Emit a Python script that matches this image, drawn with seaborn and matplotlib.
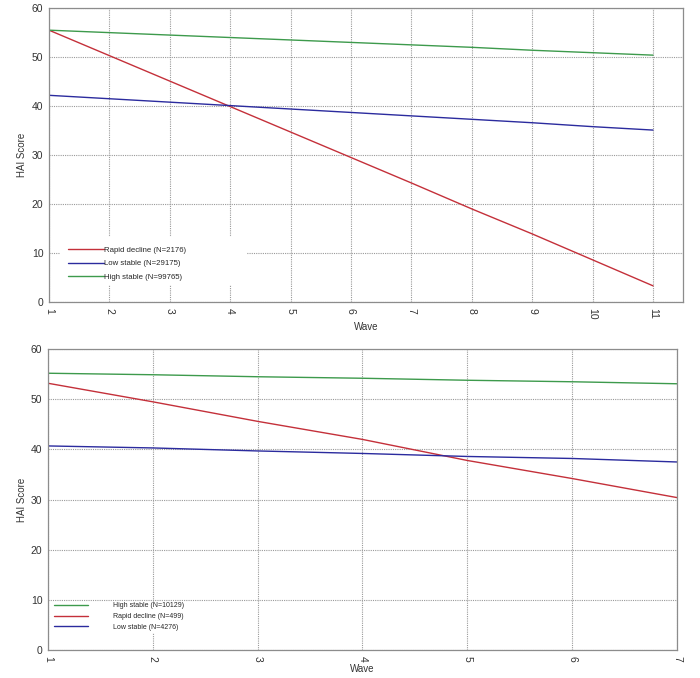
import numpy as np
import pandas as pd
import seaborn as sns
import matplotlib
matplotlib.use("Agg")
import matplotlib.pyplot as plt
from matplotlib.patches import Rectangle

# Panel A (11 waves)
waves_a = list(range(1, 12))
rapid_a = [55.5, 50.3, 45.1, 39.9, 34.7, 29.5, 24.3, 19.0, 13.9, 8.6, 3.3]
low_a = [42.2, 41.5, 40.8, 40.1, 39.4, 38.7, 38.0, 37.3, 36.6, 35.8, 35.1]
high_a = [55.5, 55.0, 54.5, 54.0, 53.5, 53.0, 52.5, 52.0, 51.4, 50.9, 50.4]
labels_a = ["Rapid decline (N=2176)", "Low stable (N=29175)", "High stable (N=99765)"]

# Panel B (7 waves)
waves_b = list(range(1, 8))
high_b = [55.2, 54.9, 54.5, 54.2, 53.8, 53.5, 53.1]
rapid_b = [53.2, 49.5, 45.6, 42.0, 37.8, 34.2, 30.4]
low_b = [40.7, 40.3, 39.7, 39.2, 38.6, 38.2, 37.5]
labels_b = ["High stable (N=10129)", "Rapid decline (N=499)", "Low stable (N=4276)"]

RED, BLUE, GREEN = "#c4303a", "#2b2b9e", "#3d9a4c"

sns.set_style("white")
plt.rcParams['font.family'] = ['Liberation Sans', 'DejaVu Sans']

df_a = pd.DataFrame({
    "Wave": waves_a * 3,
    "HAI Score": rapid_a + low_a + high_a,
    "group": [labels_a[0]] * 11 + [labels_a[1]] * 11 + [labels_a[2]] * 11,
})
df_b = pd.DataFrame({
    "Wave": waves_b * 3,
    "HAI Score": high_b + rapid_b + low_b,
    "group": [labels_b[0]] * 7 + [labels_b[1]] * 7 + [labels_b[2]] * 7,
})

fig = plt.figure(figsize=(7, 6.78), dpi=100)
ax1 = fig.add_axes([0.070, 0.5546, 0.906, 0.4334])
ax2 = fig.add_axes([0.0686, 0.0413, 0.8985, 0.4437])

def style(ax, xmax, nwaves, ylab_x):
    ax.set_ylim(0, 60)
    ax.set_xlim(1, xmax)
    ax.set_xticks(range(1, nwaves + 1))
    ax.set_yticks(range(0, 61, 10))
    ax.grid(True, color="#9a9a9a", linestyle=(0, (1, 1)), linewidth=0.8)
    ax.set_axisbelow(True)
    for s in ax.spines.values():
        s.set_color("#8c8c8c")
        s.set_linewidth(0.9)
    ax.tick_params(axis="both", direction="out", length=3, width=0.8,
                   color="#8c8c8c", labelsize=7.5, labelcolor="#333333", pad=1)
    for t in ax.get_xticklabels():
        t.set_rotation(270)
    ax.set_ylabel("HAI Score", fontsize=7, color="#333333")
    ax.yaxis.set_label_coords(ylab_x, 0.5)

sns.lineplot(data=df_a, x="Wave", y="HAI Score", hue="group",
             hue_order=labels_a, palette=[RED, BLUE, GREEN],
             linewidth=1.0, ax=ax1)
style(ax1, 11.5, 11, -0.035)
ax1.set_xlabel("Wave", fontsize=7, color="#333333")
ax1.xaxis.set_label_coords(0.5, -0.068)
# white box behind the legend hiding the grid (as in the original)
ax1.add_patch(Rectangle((0.017, 0.057), 0.295, 0.163, transform=ax1.transAxes,
                        facecolor="white", edgecolor="none", zorder=1.5))
leg1 = ax1.legend(loc="lower left", bbox_to_anchor=(0.02, 0.051), frameon=False,
                  fontsize=5.6, handlelength=4.6, handletextpad=0.0,
                  labelspacing=0.75, borderpad=0.3)
leg1.set_title(None)

sns.lineplot(data=df_b, x="Wave", y="HAI Score", hue="group",
             hue_order=labels_b, palette=[GREEN, RED, BLUE],
             linewidth=1.0, ax=ax2)
style(ax2, 7, 7, -0.033)
ax2.set_xlabel("Wave", fontsize=7, color="#333333")
ax2.xaxis.set_label_coords(0.5, -0.045)
ax2.add_patch(Rectangle((0.005, 0.055), 0.215, 0.105, transform=ax2.transAxes,
                        facecolor="white", edgecolor="none", zorder=1.5))
leg2 = ax2.legend(loc="lower left", bbox_to_anchor=(0.0, 0.045), frameon=False,
                  fontsize=5.0, handlelength=5.0, handletextpad=3.6,
                  labelspacing=0.55, borderpad=0.3)
leg2.set_title(None)

fig.savefig("out.png", dpi=100)
